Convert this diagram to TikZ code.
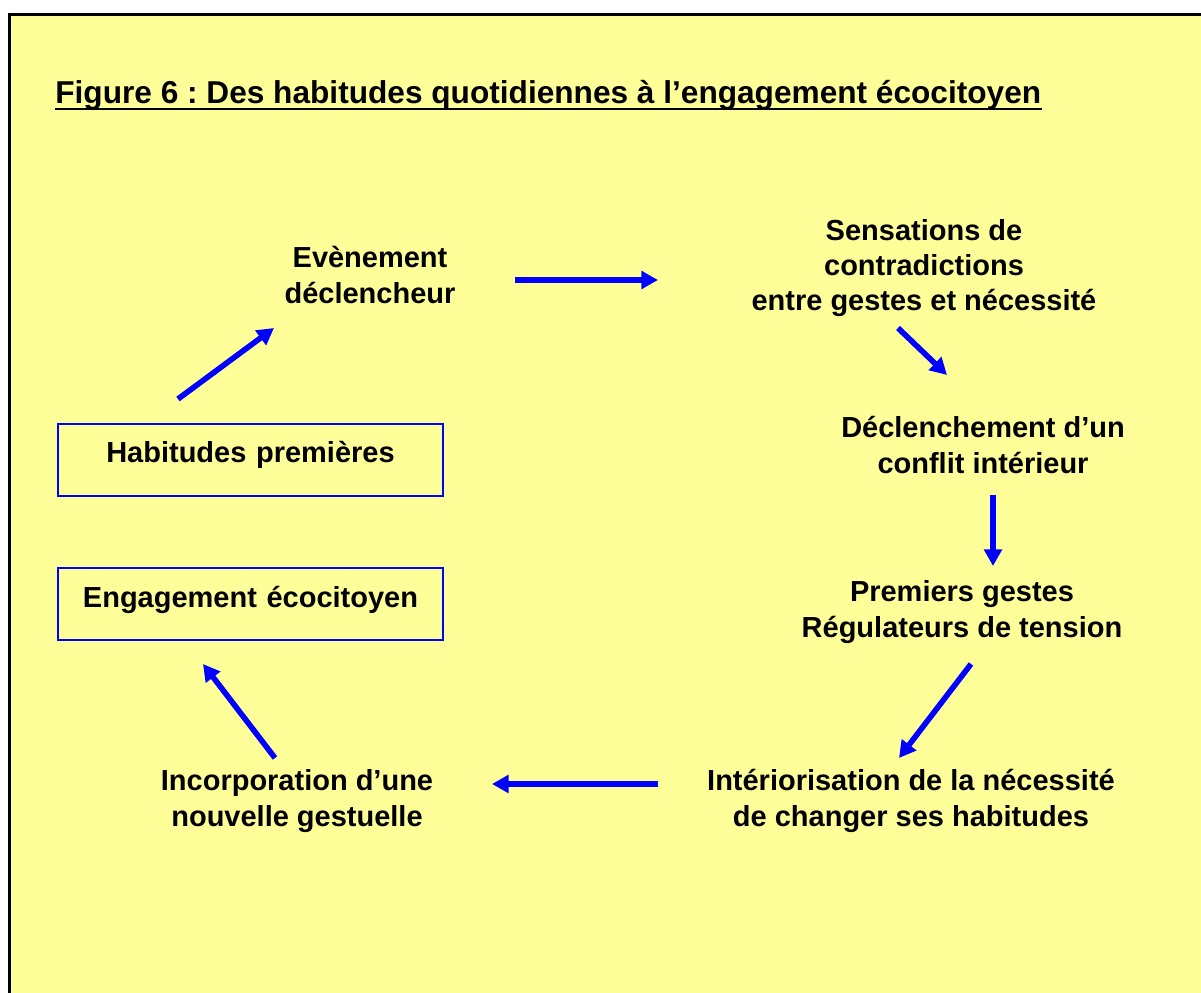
\documentclass[tikz,border=0pt]{standalone}
\usepackage{fontspec}
\setmainfont{Liberation Sans}
\usetikzlibrary{arrows.meta}
\definecolor{paper}{HTML}{FFFF99}
\frenchspacing
\newcommand{\diagfont}{\fontsize{16.5pt}{20.1pt}\selectfont\bfseries}
\newcommand{\figtitlefont}{\fontsize{18pt}{21pt}\selectfont\bfseries}

\begin{document}
\begin{tikzpicture}[>=Latex, x=0.02cm, y=-0.02cm,
    lbl/.style={font=\diagfont, align=center, inner sep=0pt},
    box/.style={draw=blue, line width=0.8pt, font=\diagfont, inner sep=0pt,
        text width=7.7cm, align=center, text height=0.78cm, text depth=0.66cm},
    flow/.style={draw=blue, line width=3.2pt, -{Triangle[length=9.5pt,width=10pt]}}]
\useasboundingbox (0,0) rectangle (1201,993);
\fill[paper] (9,14) rectangle (1201,993);
\draw[line width=1.4pt] (9.5,993) -- (9.5,14.5) -- (1201,14.5);

\node[font=\figtitlefont, anchor=base west, inner sep=0pt] (title) at (55,104)
    {Figure 6 : Des habitudes quotidiennes à l’engagement écocitoyen};
\draw[line width=1.7pt] ([yshift=-0.1cm]title.base west) -- ([yshift=-0.1cm]title.base east);

\node[lbl] (evt) at (370,275) {Evènement\\déclencheur};
\node[lbl] (sens) at (924,268) {Sensations de\\contradictions\\entre gestes et nécessité};
\node[lbl] (confl) at (983,445) {Déclenchement d’un\\conflit intérieur};
\node[lbl] (gest) at (962,612) {Premiers gestes\\Régulateurs de tension};
\node[lbl] (inter) at (911,801) {Intériorisation de la nécessité\\de changer ses habitudes};
\node[lbl] (incorp) at (297,801) {Incorporation d’une\\nouvelle gestuelle};
\node[box] (hab) at (250.5,460) {Habitudes premières};
\node[box] (eng) at (250.5,604) {Engagement écocitoyen};

\coordinate (evt-out) at (515,280);   \coordinate (sens-in) at (658,280);
\coordinate (sens-out) at (898,328);  \coordinate (confl-in) at (947,375);
\coordinate (confl-out) at (993,495); \coordinate (gest-in) at (993,566);
\coordinate (gest-out) at (971,664);  \coordinate (inter-in) at (899,758);
\coordinate (inter-out) at (658,784); \coordinate (incorp-in) at (492,784);
\coordinate (incorp-out) at (275,758);\coordinate (eng-in) at (203,664);
\coordinate (hab-out) at (178,399);   \coordinate (evt-in) at (274,328);
\foreach \a/\b in {evt-out/sens-in, sens-out/confl-in, confl-out/gest-in,
    gest-out/inter-in, inter-out/incorp-in, incorp-out/eng-in, hab-out/evt-in}
{
    \draw[flow] (\a) -- (\b);
}
\end{tikzpicture}
\end{document}
